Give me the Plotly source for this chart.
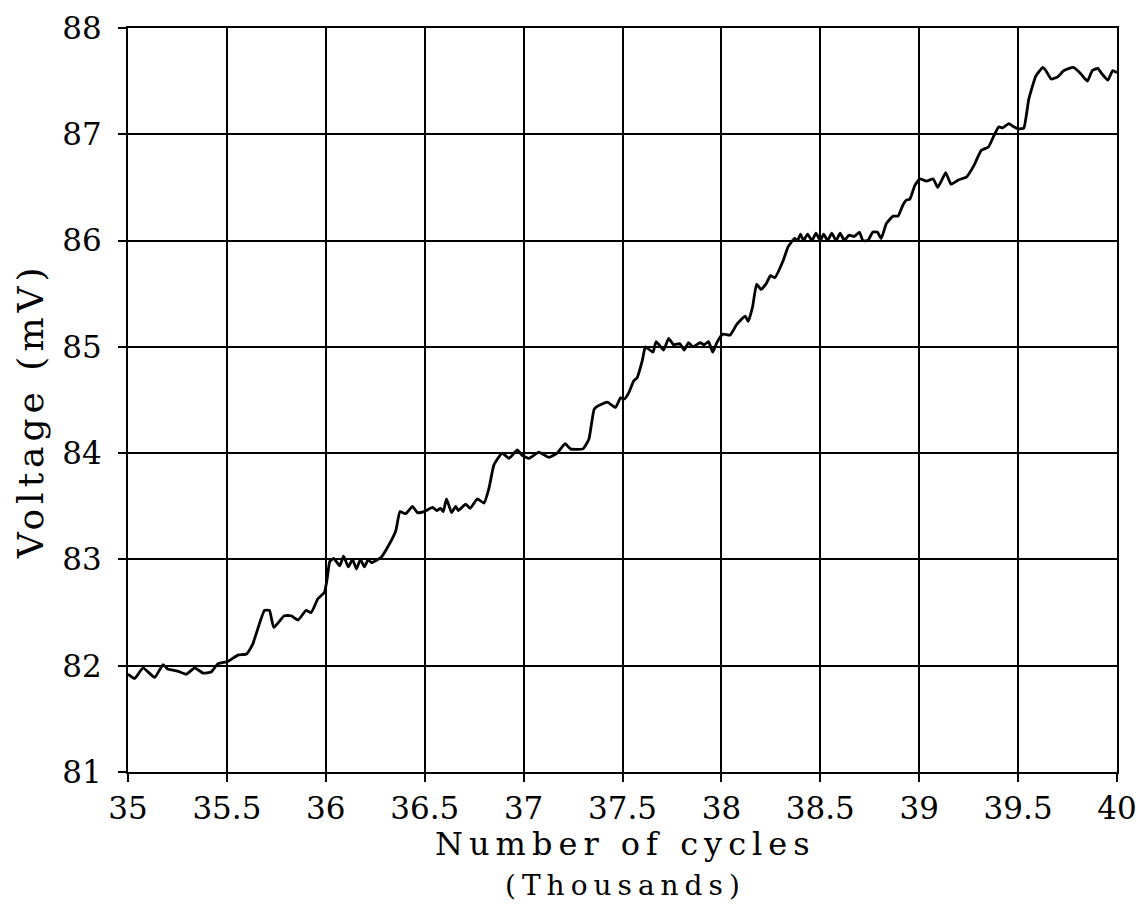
import plotly.graph_objects as go

cycles = [
    35.0, 35.034, 35.076, 35.135, 35.177, 35.2, 35.25, 35.295, 35.337, 35.38,
    35.42, 35.455, 35.505, 35.556, 35.6, 35.63, 35.69, 35.715, 35.737, 35.79,
    35.825, 35.86, 35.9, 35.926, 35.96, 35.993, 36.007, 36.02, 36.04, 36.07,
    36.09, 36.114, 36.135, 36.155, 36.175, 36.195, 36.215, 36.23, 36.28, 36.32,
    36.354, 36.375, 36.404, 36.438, 36.463, 36.497, 36.54, 36.56, 36.58, 36.594,
    36.61, 36.636, 36.657, 36.67, 36.707, 36.73, 36.766, 36.8, 36.825, 36.85,
    36.892, 36.926, 36.968, 36.993, 37.027, 37.077, 37.128, 37.17, 37.21, 37.237,
    37.3, 37.33, 37.356, 37.372, 37.423, 37.465, 37.49, 37.51, 37.532, 37.557,
    37.574, 37.6, 37.616, 37.654, 37.67, 37.708, 37.733, 37.758, 37.79, 37.812,
    37.834, 37.856, 37.893, 37.913, 37.935, 37.956, 37.977, 38.007, 38.044, 38.077,
    38.12, 38.136, 38.158, 38.178, 38.2, 38.228, 38.248, 38.27, 38.312, 38.337,
    38.37, 38.385, 38.4, 38.415, 38.436, 38.458, 38.478, 38.5, 38.517, 38.537,
    38.558, 38.58, 38.6, 38.622, 38.644, 38.673, 38.698, 38.715, 38.74, 38.766,
    38.788, 38.808, 38.834, 38.868, 38.893, 38.919, 38.935, 38.953, 38.978, 39.003,
    39.037, 39.071, 39.093, 39.117, 39.134, 39.161, 39.198, 39.24, 39.275, 39.314,
    39.35, 39.376, 39.402, 39.422, 39.453, 39.478, 39.503, 39.529, 39.554, 39.59,
    39.625, 39.64, 39.667, 39.7, 39.732, 39.778, 39.812, 39.85, 39.875, 39.903,
    39.923, 39.954, 39.978, 40.0,
]

voltage = [
    81.92, 81.88, 81.98, 81.89, 82.01, 81.97, 81.95, 81.92, 81.98, 81.93,
    81.94, 82.02, 82.04, 82.10, 82.11, 82.2, 82.52, 82.52, 82.36, 82.47,
    82.47, 82.43, 82.52, 82.50, 82.63, 82.69, 82.82, 82.98, 83.01, 82.94,
    83.03, 82.93, 83.0, 82.91, 83.0, 82.93, 83.0, 82.97, 83.02, 83.14,
    83.27, 83.45, 83.43, 83.5, 83.44, 83.45, 83.49, 83.46, 83.48, 83.45,
    83.57, 83.44, 83.5, 83.46, 83.52, 83.48, 83.57, 83.53, 83.67, 83.89,
    84.0, 83.95, 84.03, 83.98, 83.95, 84.01, 83.96, 84.0, 84.09, 84.04,
    84.04, 84.13, 84.41, 84.44, 84.48, 84.43, 84.52, 84.51, 84.57, 84.68,
    84.71, 84.87, 85.0, 84.95, 85.05, 84.97, 85.08, 85.02, 85.03, 84.97,
    85.04, 85.0, 85.04, 85.02, 85.05, 84.95, 85.04, 85.12, 85.11, 85.21,
    85.29, 85.24, 85.38, 85.59, 85.54, 85.6, 85.67, 85.65, 85.81, 85.94,
    86.02, 86.0, 86.06, 86.0, 86.06, 86.0, 86.07, 86.0, 86.06, 86.0,
    86.07, 86.0, 86.07, 86.0, 86.05, 86.04, 86.08, 86.0, 86.0, 86.08,
    86.08, 86.02, 86.16, 86.23, 86.23, 86.34, 86.38, 86.39, 86.52, 86.58,
    86.56, 86.58, 86.5, 86.58, 86.64, 86.53, 86.57, 86.6, 86.7, 86.85,
    86.88, 86.98, 87.07, 87.06, 87.1, 87.07, 87.05, 87.06, 87.33, 87.55,
    87.63, 87.6, 87.52, 87.54, 87.6, 87.63, 87.58, 87.5, 87.6, 87.62,
    87.57, 87.51, 87.6, 87.58,
]

x_ticks = [35, 35.5, 36, 36.5, 37, 37.5, 38, 38.5, 39, 39.5, 40]
x_tick_labels = ["35", "35.5", "36", "36.5", "37", "37.5", "38", "38.5", "39", "39.5", "40"]
y_ticks = [81, 82, 83, 84, 85, 86, 87, 88]
y_tick_labels = ["81", "82", "83", "84", "85", "86", "87", "88"]

FONT = "DejaVu Serif"


def spaced(text, px):
    return f"<span style='letter-spacing:{px}px'>{text}</span>"


fig = go.Figure()
fig.add_trace(go.Scatter(
    x=cycles, y=voltage, mode="lines",
    line=dict(color="black", width=2.8, shape="spline", smoothing=0.4),
    showlegend=False,
))

axis_common = dict(
    showgrid=True, gridcolor="black", gridwidth=1.7,
    showline=True, linecolor="black", linewidth=2, mirror=True,
    ticks="outside", ticklen=8, tickcolor="black", tickwidth=1.6,
    zeroline=False, automargin=False, ticklabeloverflow="allow",
)

# the page body adds an 8px offset; margins compensate for it
fig.update_layout(
    width=1146, height=911,
    paper_bgcolor="white", plot_bgcolor="white",
    margin=dict(l=120, r=37, t=20, b=147),
    font=dict(family=FONT, color="black"),
    xaxis=dict(
        range=[35, 40], tickvals=x_ticks, ticktext=x_tick_labels,
        tickfont=dict(family=FONT, size=31, color="black"),
        **axis_common,
    ),
    yaxis=dict(
        range=[81, 88], tickvals=y_ticks, ticktext=y_tick_labels,
        tickfont=dict(family=FONT, size=31, color="black"),
        ticklabelstandoff=10,
        **axis_common,
    ),
)

fig.add_annotation(
    text=spaced("Number of cycles", 6), xref="paper", yref="paper",
    x=0.5035, y=-0.097, xanchor="center", yanchor="middle", showarrow=False,
    font=dict(family=FONT, size=32, color="black"),
)
fig.add_annotation(
    text=spaced("(Thousands)", 6), xref="paper", yref="paper",
    x=0.5035, y=-0.152, xanchor="center", yanchor="middle", showarrow=False,
    font=dict(family=FONT, size=28, color="black"),
)
fig.add_annotation(
    text=spaced("Voltage (mV)", 5), xref="paper", yref="paper",
    x=-0.099, y=0.485, xanchor="center", yanchor="middle", textangle=-90,
    showarrow=False,
    font=dict(family=FONT, size=36, color="black"),
)

fig.write_html("out.html")
